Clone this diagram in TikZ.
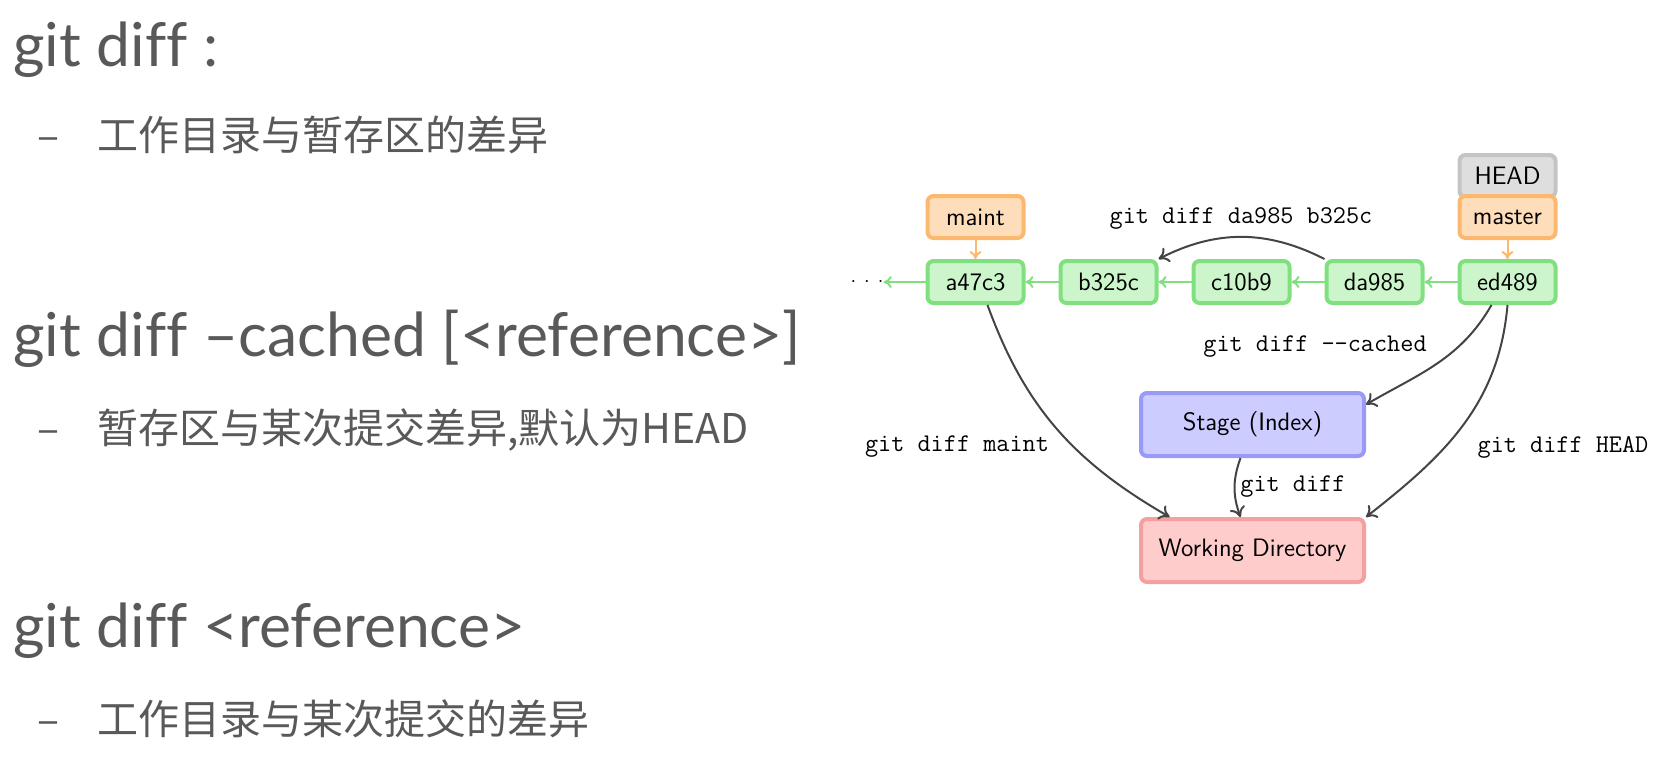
\documentclass[tikz,border=0pt]{standalone}
\usepackage{fontspec}
\usepackage{tikz}
\usetikzlibrary{arrows.meta,positioning,calc}
\newfontfamily\cjkfont{Noto Sans CJK SC}
\newfontfamily\headfont[Ligatures=CommonOff]{Lato}
\definecolor{inkGrey}{HTML}{595959}
\definecolor{arrowDark}{HTML}{444444}
\definecolor{commitFill}{HTML}{CCF5CC}
\definecolor{commitLine}{HTML}{80E080}
\definecolor{branchFill}{HTML}{FEDDBB}
\definecolor{branchLine}{HTML}{FDB870}
\definecolor{headFill}{HTML}{DEDEDE}
\definecolor{headLine}{HTML}{C4C4C4}
\definecolor{stageFill}{HTML}{CCCCFF}
\definecolor{stageLine}{HTML}{9999F8}
\definecolor{workFill}{HTML}{FFCCCC}
\definecolor{workLine}{HTML}{F4A0A0}

\begin{document}
\begin{tikzpicture}[x=0.5pt, y=-0.5pt,
    box/.style={draw, line width=2pt, rounded corners=3pt, font=\sffamily\fontsize{12.6}{14}\selectfont},
    commit/.style={box, fill=commitFill, draw=commitLine, minimum width=48pt, minimum height=21pt},
    branch/.style={box, fill=branchFill, draw=branchLine, minimum width=48pt, minimum height=21pt},
    area/.style={box, minimum width=111.5pt, minimum height=31.5pt},
    cmd/.style={font=\ttfamily\fontsize{12.75}{15}\selectfont, inner sep=0pt},
    headline/.style={font=\headfont\fontsize{30.3}{36}\selectfont, text=inkGrey, inner sep=0pt, anchor=base west},
    subline/.style={font=\cjkfont\fontsize{20.5}{24}\selectfont, text=inkGrey, inner sep=0pt, anchor=base west},
    parent/.style={-{To[length=4pt,width=6pt]}, line width=1pt, commitLine},
    ref/.style={-{To[length=4pt,width=6pt]}, line width=1pt, branchLine},
    diff/.style={-{To[length=5pt,width=8pt]}, line width=1pt, arrowDark}]
  \useasboundingbox (0,0) rectangle (1655,761);

  % left column
  \node[headline] (t1) at (13,66) {git diff :};
  \node[subline] (d1) at (37,150) {–};
  \node[subline] (s1) at (97,150) {工作目录与暂存区的差异};
  \node[headline] (t2) at (13,356) {git diff –cached [<reference>]};
  \node[subline] (d2) at (37,443) {–};
  \node[subline] (s2) at (97,443) {暂存区与某次提交差异,默认为HEAD};
  \node[headline] (t3) at (13,647) {git diff <reference>};
  \node[subline] (d3) at (37,734) {–};
  \node[subline] (s3) at (97,734) {工作目录与某次提交的差异};

  % commit history
  \node[commit] (a47c3) at (975.5,282) {a47c3};
  \node[commit, right=16.5pt of a47c3] (b325c) {b325c};
  \node[commit, right=16.5pt of b325c] (c10b9) {c10b9};
  \node[commit, right=16.5pt of c10b9] (da985) {da985};
  \node[commit, right=16.5pt of da985] (ed489) {ed489};
  \node[inner sep=0pt] (older) at (867,282) {$\cdot$\hspace{4pt}$\cdot$\hspace{4pt}$\cdot$};
  \node[branch, above=9.5pt of a47c3] (maint) {maint};
  \node[box, fill=headFill, draw=headLine, minimum width=48pt, minimum height=21pt, above=30pt of ed489] (HEAD) {HEAD};
  \node[branch, above=9.5pt of ed489] (master) {master};

  \draw[parent] (ed489) -- (da985);
  \draw[parent] (da985) -- (c10b9);
  \draw[parent] (c10b9) -- (b325c);
  \draw[parent] (b325c) -- (a47c3);
  \draw[parent] (a47c3) -- (older);
  \draw[ref] (maint) -- (a47c3);
  \draw[ref] (master) -- (ed489);

  % index and working tree
  \node[area, fill=stageFill, draw=stageLine] (stage) at (1252.5,424.5) {Stage (Index)};
  \node[area, fill=workFill, draw=workLine, below=29.5pt of stage] (work) {Working Directory};

  \draw[diff] (da985.north west) to[bend right=27] (b325c.north east);
  \draw[diff] ([xshift=6pt]a47c3.south) to[out=-70, in=150] (work.158);
  \draw[diff] ([xshift=-8pt]ed489.south) to[out=-120, in=30] (stage.10);
  \draw[diff] (ed489.south) to[out=-95, in=38] (work.north east);
  \draw[diff] ([xshift=-6pt]stage.south) to[bend right=20] ([xshift=-6pt]work.north);

  \node[cmd] (l1) at (1241,218) {git diff da985 b325c};
  \node[cmd] (l2) at (1315,347) {git diff --cached};
  \node[cmd] (l3) at (957,447) {git diff maint};
  \node[cmd] (l4) at (1563,447) {git diff HEAD};
  \node[cmd, anchor=west] (l5) at (1240,487) {git diff};
\end{tikzpicture}
\end{document}
